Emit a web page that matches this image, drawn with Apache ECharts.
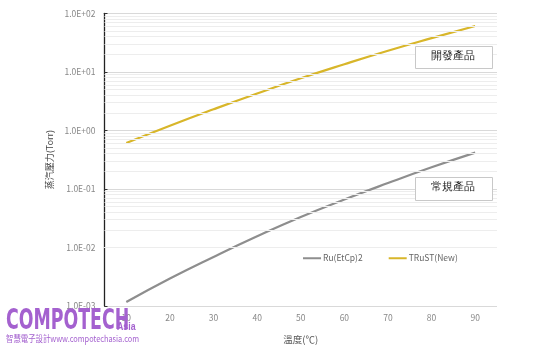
<!DOCTYPE html>
<html><head><meta charset="utf-8">
<script src="https://cdn.jsdelivr.net/npm/echarts@6/dist/echarts.min.js"></script>
<style>html,body{margin:0;padding:0;background:#fff}#c{width:560px;height:350px}</style>
</head><body><div id="c"></div>
<script>
var categories = ['10','20','30','40','50','60','70','80','90'];
var ruEtCp2 = [0.00117, 0.00295, 0.0069, 0.0155, 0.0331, 0.066, 0.126, 0.234, 0.417];
var trustNew = [0.61, 1.2, 2.29, 4.27, 7.76, 13.5, 22.9, 37.6, 60.7];
var seriesNames = ['Ru(EtCp)2', 'TRuST(New)'];
var yAxisName = '蒸汽壓力(Torr)';
var xAxisName = '溫度(℃)';
var minorValues = [];
[-3,-2,-1,0,1].forEach(function(e){ for(var m=2;m<=9;m++){ minorValues.push(m*Math.pow(10,e)); } });

var chart = echarts.init(document.getElementById('c'), null, {renderer:'canvas'});
var font = '"Noto Sans CJK TC","Noto Sans",sans-serif';
chart.setOption({
  animation:false,
  backgroundColor:'#fff',
  grid:{left:104.5, right:63, top:13.3, bottom:44},
  legend:{
    data:seriesNames, left:298, top:249, itemWidth:18, itemHeight:2, itemGap:26,
    icon:'rect',
    textStyle:{fontSize:8.5, color:'#666', fontFamily:font, padding:[0,0,0,-3]}
  },
  xAxis:{
    type:'category', data:categories, boundaryGap:true,
    name:xAxisName, nameLocation:'middle', nameGap:29,
    nameTextStyle:{fontSize:9.5, color:'#555', fontFamily:font},
    axisLine:{show:false}, axisTick:{show:false},
    axisLabel:{fontSize:8.5, color:'#888', margin:8, fontFamily:font},
    splitLine:{show:false}
  },
  yAxis:{
    type:'log', logBase:10, min:0.001, max:100,
    name:yAxisName, nameLocation:'middle', nameGap:37, nameRotate:90,
    nameTextStyle:{fontSize:9, color:'#444', fontFamily:font},
    axisLine:{show:true, lineStyle:{color:'#222', width:1.3}},
    axisTick:{show:true, inside:true, length:3, lineStyle:{color:'#333'}},
    axisLabel:{fontSize:8.5, color:'#888', margin:9, fontFamily:font,
      formatter:function(v){ var e=Math.round(Math.log10(v)); return '1.0E'+(e<0?'-':'+')+(Math.abs(e)<10?'0':'')+Math.abs(e); }},
    splitLine:{show:true, lineStyle:{color:'#d9d9d9', width:1}}
  },
  series:[
    {name:seriesNames[0], type:'line', data:ruEtCp2, smooth:true, symbol:'none',
     lineStyle:{color:'#8e8e8e', width:2.2}, itemStyle:{color:'#8e8e8e'},
     markLine:{silent:true, symbol:'none', label:{show:false},
       lineStyle:{color:'#ededed', width:1, type:'solid'},
       data:minorValues.map(function(v){return {yAxis:v};})}},
    {name:seriesNames[1], type:'line', data:trustNew, smooth:true, symbol:'none',
     lineStyle:{color:'#d8b62a', width:2.2}, itemStyle:{color:'#d8b62a'}}
  ],
  graphic:[
    {type:'rect', left:415, top:46, shape:{width:77, height:22}, style:{fill:'#fff', stroke:'#c8c8c8', lineWidth:1}, z:10},
    {type:'text', left:431, top:51, style:{text:'開發產品', fontSize:10.5, fill:'#222', font:'10.5px '+font}, z:11},
    {type:'rect', left:415, top:177, shape:{width:77, height:23}, style:{fill:'#fff', stroke:'#c8c8c8', lineWidth:1}, z:10},
    {type:'text', left:431, top:182, style:{text:'常規產品', fontSize:10.5, fill:'#222', font:'10.5px '+font}, z:11},
    {type:'text', x:6, y:308, scaleX:0.62, style:{text:'COMPOTECH', verticalAlign:'top', font:'bold 28px "DejaVu Sans","Liberation Sans",sans-serif', fill:'#a461cf'}, z:20},
    {type:'text', x:117, y:321, scaleX:0.8, style:{text:'Asia', verticalAlign:'top', font:'bold 11px "Liberation Sans",sans-serif', fill:'#a461cf'}, z:20},
    {type:'text', x:6, y:334, scaleX:0.82, style:{text:'智慧電子設計www.compotechasia.com', verticalAlign:'top', font:'9px "Noto Sans CJK TC","Liberation Sans",sans-serif', fill:'#a461cf'}, z:20}
  ]
});
</script></body></html>
